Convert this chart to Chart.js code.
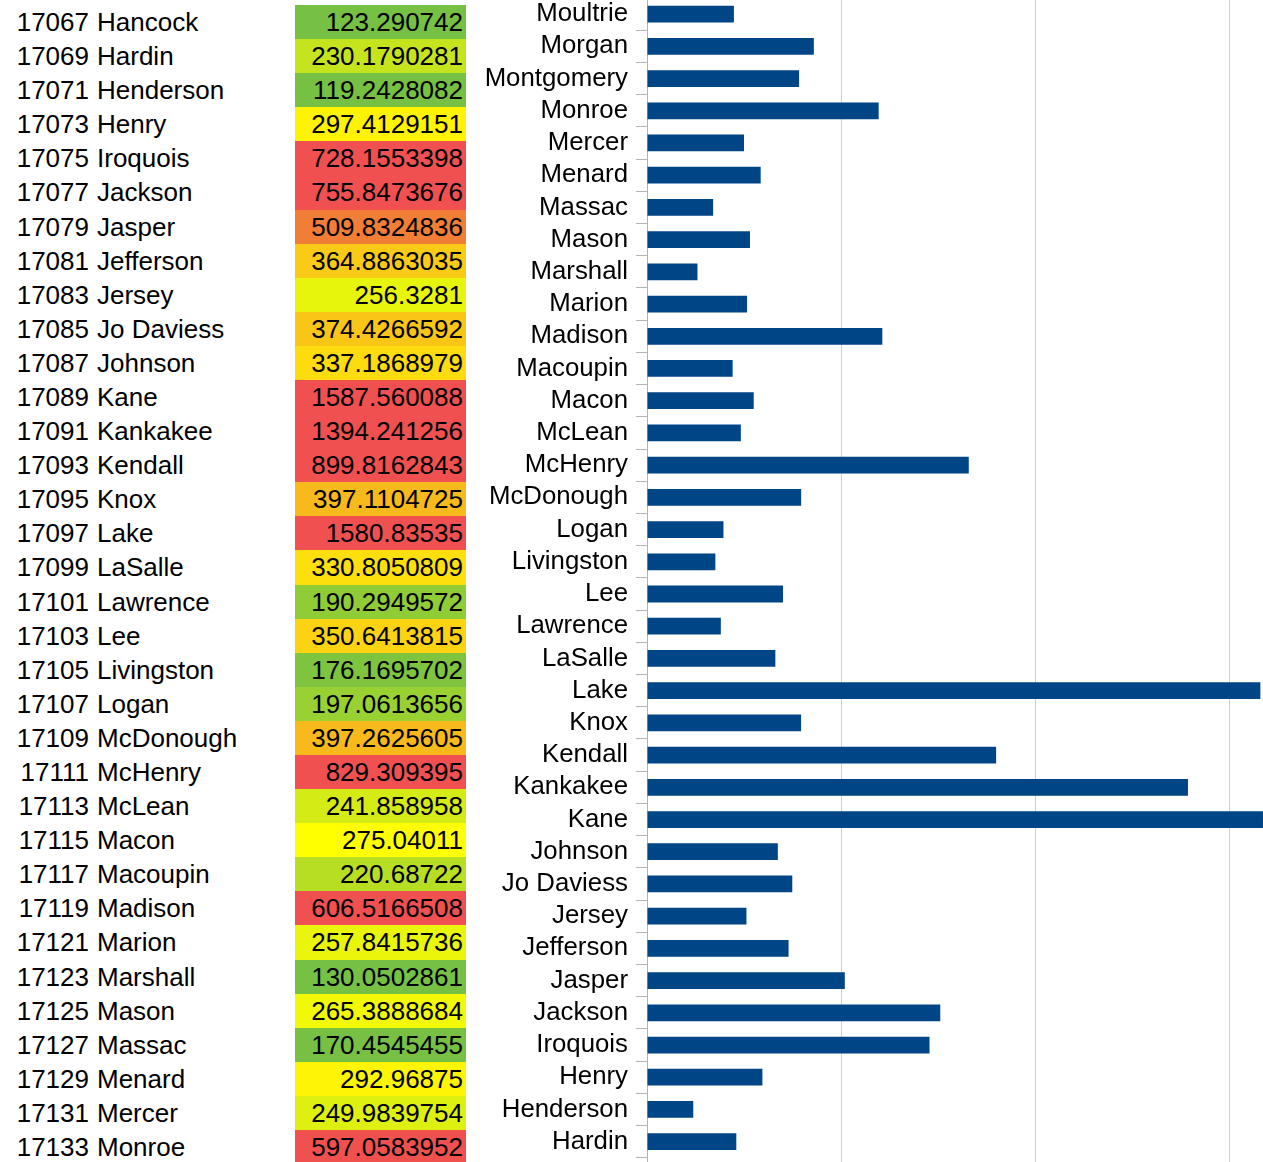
<!DOCTYPE html>
<html>
<head>
<meta charset="utf-8">
<script src="https://cdn.jsdelivr.net/npm/chart.js@4"></script>
<style>
  html, body { margin: 0; padding: 0; background: #fff; width: 1263px; height: 1162px; overflow: hidden; }
  body { position: relative; font-family: 'Liberation Sans', Arial, sans-serif; }
  .row { position: absolute; left: 0; width: 480px; height: 34.09px; line-height: 34.09px; font-size: 26px; color: #000; }
  .code { position: absolute; left: 0; width: 89px; text-align: right; }
  .name { position: absolute; left: 97px; white-space: nowrap; }
  .val { position: absolute; left: 295px; width: 171px; height: 100%; text-align: right; padding-right: 3px; box-sizing: border-box; }
  #chartBox { position: absolute; left: 480px; top: -2px; width: 943px; height: 1192px; }
</style>
</head>
<body>
<div id="table"></div>
<div id="chartBox"><canvas id="countyChart"></canvas></div>
<script>
// table columns (county code, name, value)
const tableCodes = [17067, 17069, 17071, 17073, 17075, 17077, 17079, 17081, 17083, 17085,
    17087, 17089, 17091, 17093, 17095, 17097, 17099, 17101, 17103, 17105,
    17107, 17109, 17111, 17113, 17115, 17117, 17119, 17121, 17123, 17125,
    17127, 17129, 17131, 17133];
const tableNames = ['Hancock', 'Hardin', 'Henderson', 'Henry', 'Iroquois', 'Jackson', 'Jasper', 'Jefferson', 'Jersey', 'Jo Daviess',
    'Johnson', 'Kane', 'Kankakee', 'Kendall', 'Knox', 'Lake', 'LaSalle', 'Lawrence', 'Lee', 'Livingston',
    'Logan', 'McDonough', 'McHenry', 'McLean', 'Macon', 'Macoupin', 'Madison', 'Marion', 'Marshall', 'Mason',
    'Massac', 'Menard', 'Mercer', 'Monroe'];
const tableValues = [123.290742, 230.1790281, 119.2428082, 297.4129151, 728.1553398, 755.8473676, 509.8324836, 364.8863035, 256.3281, 374.4266592,
    337.1868979, 1587.560088, 1394.241256, 899.8162843, 397.1104725, 1580.83535, 330.8050809, 190.2949572, 350.6413815, 176.1695702,
    197.0613656, 397.2625605, 829.309395, 241.858958, 275.04011, 220.68722, 606.5166508, 257.8415736, 130.0502861, 265.3888684,
    170.4545455, 292.96875, 249.9839754, 597.0583952];

// counties in the chart above Monroe (no table row visible)
const extraNames = ['Montgomery', 'Morgan', 'Moultrie'];
const extraValues = [392, 430, 224];

const chartNames = tableNames.concat(extraNames);
const chartValues = tableValues.concat(extraValues);

// colour scale like the spreadsheet's conditional format
const colorStops = [
    [170, [118, 192, 67]],
    [275, [255, 255, 0]],
    [400, [248, 183, 30]],
    [510, [242, 125, 55]],
    [600, [240, 80, 80]]
];

function cellColor(v) {
    if (v <= colorStops[0][0]) return 'rgb(' + colorStops[0][1].join(',') + ')';
    for (let i = 1; i < colorStops.length; i++) {
        if (v <= colorStops[i][0]) {
            const a = colorStops[i - 1], b = colorStops[i];
            const t = (v - a[0]) / (b[0] - a[0]);
            const c = a[1].map((x, k) => Math.round(x + (b[1][k] - x) * t));
            return 'rgb(' + c.join(',') + ')';
        }
    }
    return 'rgb(' + colorStops[colorStops.length - 1][1].join(',') + ')';
}

const tableDiv = document.getElementById('table');
tableCodes.forEach((code, i) => {
    const row = document.createElement('div');
    row.className = 'row';
    row.style.top = (5 + i * 34.09) + 'px';
    row.innerHTML = '<span class="code">' + code + '</span>' +
        '<span class="name">' + tableNames[i] + '</span>' +
        '<span class="val" style="background:' + cellColor(tableValues[i]) + '">' + tableValues[i] + '</span>';
    tableDiv.appendChild(row);
});

// horizontal bar chart
const ctx = document.getElementById('countyChart').getContext('2d');
new Chart(ctx, {
    type: 'bar',
    data: {
        labels: chartNames,
        datasets: [{
            data: chartValues,
            backgroundColor: '#004586',
            barPercentage: 0.52,
            categoryPercentage: 1
        }]
    },
    options: {
        indexAxis: 'y',
        responsive: true,
        maintainAspectRatio: false,
        animation: false,
        layout: { padding: 0 },
        plugins: {
            legend: { display: false },
            tooltip: { enabled: false }
        },
        scales: {
            x: {
                min: 0,
                max: 2000,
                ticks: { display: false, stepSize: 500 },
                grid: { color: '#cfcfcf', drawTicks: false },
                border: { display: false }
            },
            y: {
                reverse: true,
                ticks: {
                    color: '#000',
                    font: { family: 'Liberation Sans', size: 25.8 },
                    padding: 8,
                    autoSkip: false
                },
                grid: { drawOnChartArea: false, tickLength: 11, color: '#b3b3b3', offset: true },
                border: { color: '#b3b3b3' },
                afterFit: function (scale) {
                    scale.width = 167;
                    // labels may be clipped at the page edges, like the spreadsheet crop
                    scale.paddingTop = 0;
                    scale.paddingBottom = 0;
                }
            }
        }
    }
});
</script>
</body>
</html>
